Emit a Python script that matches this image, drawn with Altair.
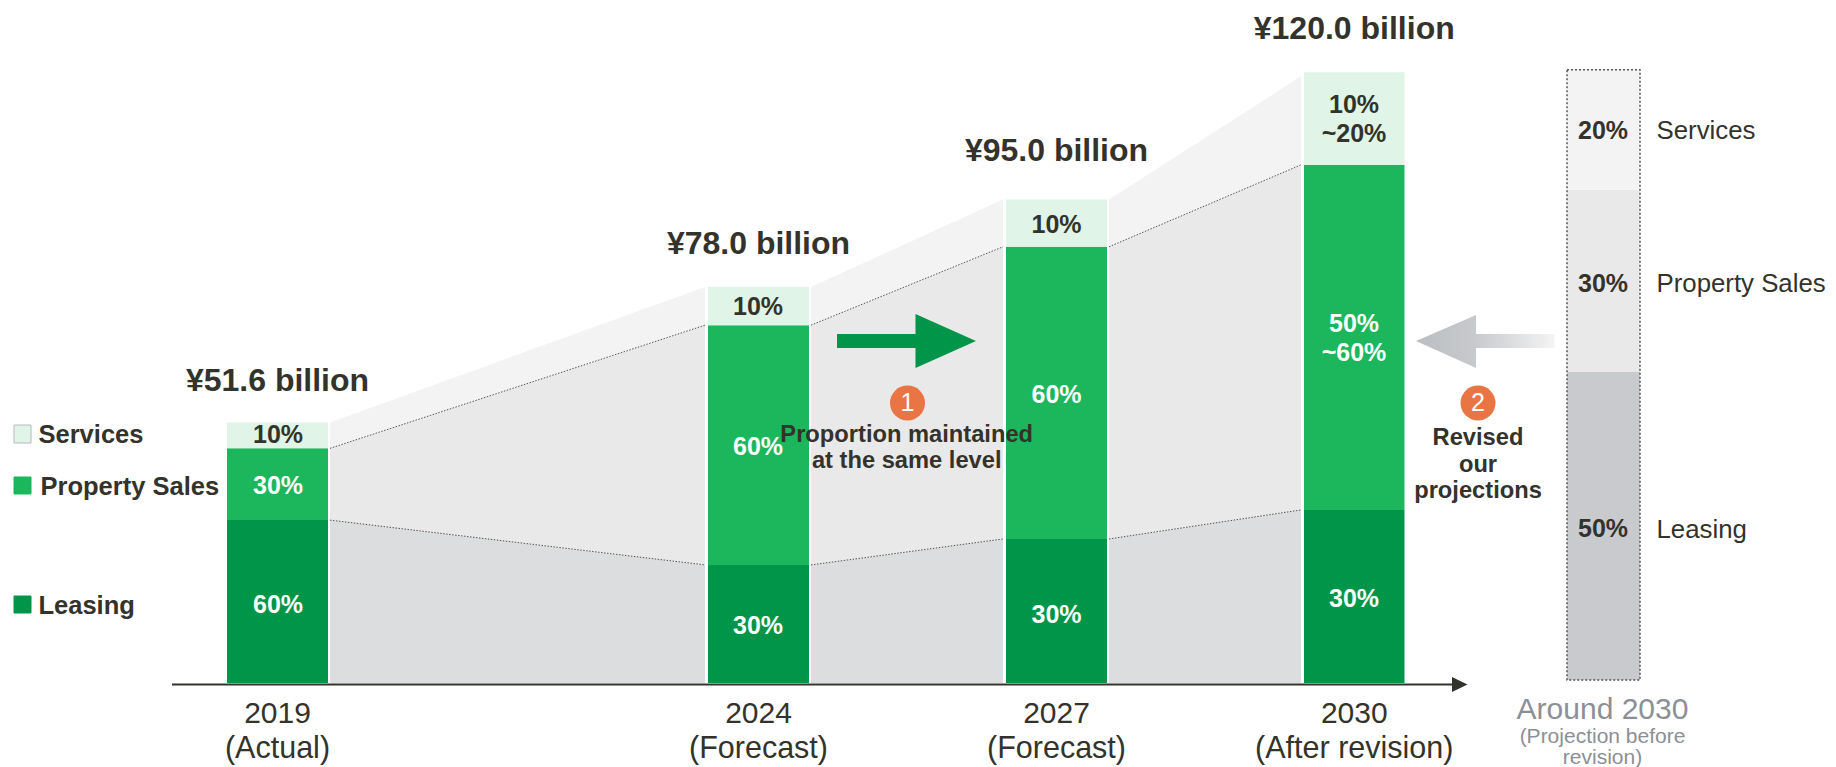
import altair as alt
import pandas as pd

# ---- values (billion yen) ----
periods = ["2019", "2024", "2027", "2030"]
period_notes = ["(Actual)", "(Forecast)", "(Forecast)", "(After revision)"]
total_labels = ["¥51.6 billion", "¥78.0 billion", "¥95.0 billion", "¥120.0 billion"]
leasing = [32.0, 23.2, 28.3, 34.0]
property_sales = [14.1, 47.1, 57.4, 67.8]
services = [5.1, 7.5, 9.3, 18.2]
band_top_at_2030 = 119.2
before_base = 0.6
before_leasing = 60.5
before_property = 35.8
before_services = 23.6

# ---- layout (reference pixels) ----
bar_left = [227, 708, 1006, 1304]
bar_right = [328, 809, 1107, 1404.5]
PX_PER_UNIT = 5.09
BASE_PY = 683
W, H = 1820, 759
FONT = "Liberation Sans"
DARK = "#33332b"
GREY_TXT = "#8b8f97"
C_LEASE, C_PROP, C_SERV = "#009548", "#1cb75c", "#e0f4e8"


def val(py):
    return (BASE_PY - py) / PX_PER_UNIT


xs = alt.Scale(domain=[8, 8 + W], range=[0, W], nice=False, zero=False)
ys = alt.Scale(domain=[val(8 + H), val(8)], nice=False, zero=False)
X = alt.X("x:Q", scale=xs, axis=None)
X2 = alt.X2("x2:Q")
Y = alt.Y("y:Q", scale=ys, axis=None)
Y2 = alt.Y2("y2:Q")

# bars
rows = []
for i in range(4):
    a = leasing[i]
    b = a + property_sales[i]
    c = b + services[i]
    for lo, hi, col in [(0, a, C_LEASE), (a, b, C_PROP), (b, c, C_SERV)]:
        rows.append(dict(x=bar_left[i], x2=bar_right[i], y=lo, y2=hi, fill=col))
bars = alt.Chart(pd.DataFrame(rows)).mark_rect().encode(
    x=X, x2=X2, y=Y, y2=Y2, fill=alt.Fill("fill:N", scale=None))

# connecting bands
band_colors = ["#dcddde", "#e9e9e9", "#f3f3f3"]
band_rows, line_rows = [], []
sg = 0
for i in range(3):
    lows = [0, leasing[i], leasing[i] + property_sales[i]]
    tops = [leasing[i], leasing[i] + property_sales[i], leasing[i] + property_sales[i] + services[i]]
    lows2 = [0, leasing[i + 1], leasing[i + 1] + property_sales[i + 1]]
    tops2 = [leasing[i + 1], leasing[i + 1] + property_sales[i + 1],
             leasing[i + 1] + property_sales[i + 1] + services[i + 1]]
    if i == 2:
        tops2[2] = band_top_at_2030
    xa, xb = bar_right[i] + 2, bar_left[i + 1] - 3
    for k in range(3):
        sg += 1
        band_rows.append(dict(s=sg, x=xa, y=lows[k], y2=tops[k], fill=band_colors[k]))
        band_rows.append(dict(s=sg, x=xb, y=lows2[k], y2=tops2[k], fill=band_colors[k]))
        if k < 2:
            line_rows.append(dict(s=sg, x=xa, y=tops[k]))
            line_rows.append(dict(s=sg, x=xb, y=tops2[k]))
bands = alt.Chart(pd.DataFrame(band_rows)).mark_area(orient="vertical").encode(
    x=X, y=Y, y2=Y2, detail="s:N", fill=alt.Fill("fill:N", scale=None))
dots = alt.Chart(pd.DataFrame(line_rows)).mark_line(
    color="#55554f", strokeWidth=1, strokeDash=[1.5, 1.5]).encode(x=X, y=Y, detail="s:N")

# right-hand "before revision" column
bx, bx2 = 1567, 1640
e0 = before_base
e1 = e0 + before_leasing
e2 = e1 + before_property
e3 = e2 + before_services
before = alt.Chart(pd.DataFrame([
    dict(x=bx, x2=bx2, y=e0, y2=e1, fill="#c9cacd"),
    dict(x=bx, x2=bx2, y=e1, y2=e2, fill="#e9e9e9"),
    dict(x=bx, x2=bx2, y=e2, y2=e3, fill="#f3f3f3"),
])).mark_rect().encode(x=X, x2=X2, y=Y, y2=Y2, fill=alt.Fill("fill:N", scale=None))
before_box = alt.Chart(pd.DataFrame([dict(x=bx, x2=bx2, y=e0, y2=e3)])).mark_rect(
    fill=None, stroke="#55565a", strokeWidth=1.5, strokeDash=[2, 2]
).encode(x=X, x2=X2, y=Y, y2=Y2)

# axis line with head
axis_line = alt.Chart(pd.DataFrame([dict(x=172, x2=1456, y=val(684.5))])).mark_rule(
    color=DARK, strokeWidth=2).encode(x=X, x2=X2, y=Y)


def tri(x_base, x_tip, top, bot, mid, **mark):
    d = pd.DataFrame([dict(x=x_base, y=val(bot), y2=val(top)),
                      dict(x=x_tip, y=val(mid), y2=val(mid))])
    return alt.Chart(d).mark_area(orient="vertical", **mark).encode(x=X, y=Y, y2=Y2)


axis_head = tri(1452, 1467.5, 677, 692, 684.5, color=DARK)

# arrows
green_shaft = alt.Chart(pd.DataFrame([dict(x=837, x2=916, y=val(348), y2=val(334))])).mark_rect(
    color=C_LEASE).encode(x=X, x2=X2, y=Y, y2=Y2)
green_head = tri(915.5, 976, 314, 368, 341, color=C_LEASE)
grey_shaft = alt.Chart(pd.DataFrame([dict(x=1476, x2=1554.5, y=val(348), y2=val(334))])).mark_rect(
    color=alt.LinearGradient(gradient="linear", x1=0, x2=1, y1=0, y2=0, stops=[
        alt.GradientStop(color="#c8cacd", offset=0),
        alt.GradientStop(color="#f4f4f4", offset=1)])
).encode(x=X, x2=X2, y=Y, y2=Y2)
grey_head = tri(1476, 1416, 315, 368, 341,
                color=alt.LinearGradient(gradient="linear", x1=0, x2=1, y1=0, y2=0, stops=[
                    alt.GradientStop(color="#bbbec2", offset=0),
                    alt.GradientStop(color="#c8cacd", offset=1)]))

# numbered circles
circles = alt.Chart(pd.DataFrame([dict(x=907.5, y=val(403)), dict(x=1478, y=val(403))])).mark_point(
    filled=True, color="#e97444", opacity=1, size=1225).encode(x=X, y=Y)


def texts(items, size, color, bold=False, align="center"):
    d = pd.DataFrame([dict(x=x, y=val(py), t=t) for x, py, t in items])
    return alt.Chart(d).mark_text(
        font=FONT, fontSize=size, color=color, align=align, baseline="middle",
        fontWeight="bold" if bold else "normal"
    ).encode(x=X, y=Y, text="t:N")


centers = [(l + r) / 2 for l, r in zip(bar_left, bar_right)]
t_total = texts(list(zip(centers, [380.5, 243.5, 151, 28.5], total_labels)), 32, DARK, True)
t_year = texts(list(zip(centers, [714] * 4, periods)), 30, DARK)
t_note = texts(list(zip(centers, [749] * 4, period_notes)), 30.5, DARK)
t_white = texts([
    (278, 486, "30%"), (278, 605, "60%"),
    (758, 446.5, "60%"), (758, 626, "30%"),
    (1056.5, 395, "60%"), (1056.5, 614.5, "30%"),
    (1354, 324, "50%"), (1354, 353, "~60%"), (1354, 599, "30%"),
], 25, "white", True)
t_dark = texts([
    (278, 435, "10%"), (758, 307, "10%"), (1056.5, 225, "10%"),
    (1354, 105, "10%"), (1354, 134, "~20%"),
    (1603, 131, "20%"), (1603, 284, "30%"), (1603, 529, "50%"),
], 25, DARK, True)
t_right = texts([(1656.5, 131, "Services"), (1656.5, 284, "Property Sales"), (1656.5, 530, "Leasing")],
                25.8, DARK, align="left")
t_legend = texts([(38.5, 435, "Services"), (40.5, 487, "Property Sales"), (38.5, 606, "Leasing")],
                 25.5, DARK, True, align="left")
t_note1 = texts([(906.7, 434.5, "Proportion maintained"), (906.7, 461, "at the same level"),
                 (1478, 438, "Revised"), (1478, 465, "our"), (1478, 491, "projections")],
                23.7, DARK, True)
t_circ = texts([(907.5, 403, "1"), (1478, 403, "2")], 25, "white")
t_around = texts([(1602.5, 710, "Around 2030")], 30, GREY_TXT)
t_around2 = texts([(1602.5, 737, "(Projection before"), (1602.5, 757.5, "revision)")], 21, GREY_TXT)

legend_sq = alt.Chart(pd.DataFrame([
    dict(x=14, x2=31, y=val(443), y2=val(425), fill=C_SERV, stroke="#b4b9bb"),
    dict(x=14, x2=31, y=val(494), y2=val(477), fill=C_PROP, stroke=C_PROP),
    dict(x=14, x2=31, y=val(613), y2=val(596), fill=C_LEASE, stroke=C_LEASE),
])).mark_rect(strokeWidth=1).encode(
    x=X, x2=X2, y=Y, y2=Y2,
    fill=alt.Fill("fill:N", scale=None), stroke=alt.Stroke("stroke:N", scale=None))

chart = alt.layer(
    bands, dots, bars, before, before_box, axis_line, axis_head,
    green_shaft, green_head, grey_shaft, grey_head, circles, legend_sq,
    t_total, t_year, t_note, t_white, t_dark, t_right, t_legend, t_note1, t_circ,
    t_around, t_around2,
).properties(
    width=W, height=H, padding=0, autosize=alt.AutoSizeParams(type="none"),
    background="white",
).configure_view(stroke=None)

chart.save("out.html", embed_options={"renderer": "svg", "actions": False})
